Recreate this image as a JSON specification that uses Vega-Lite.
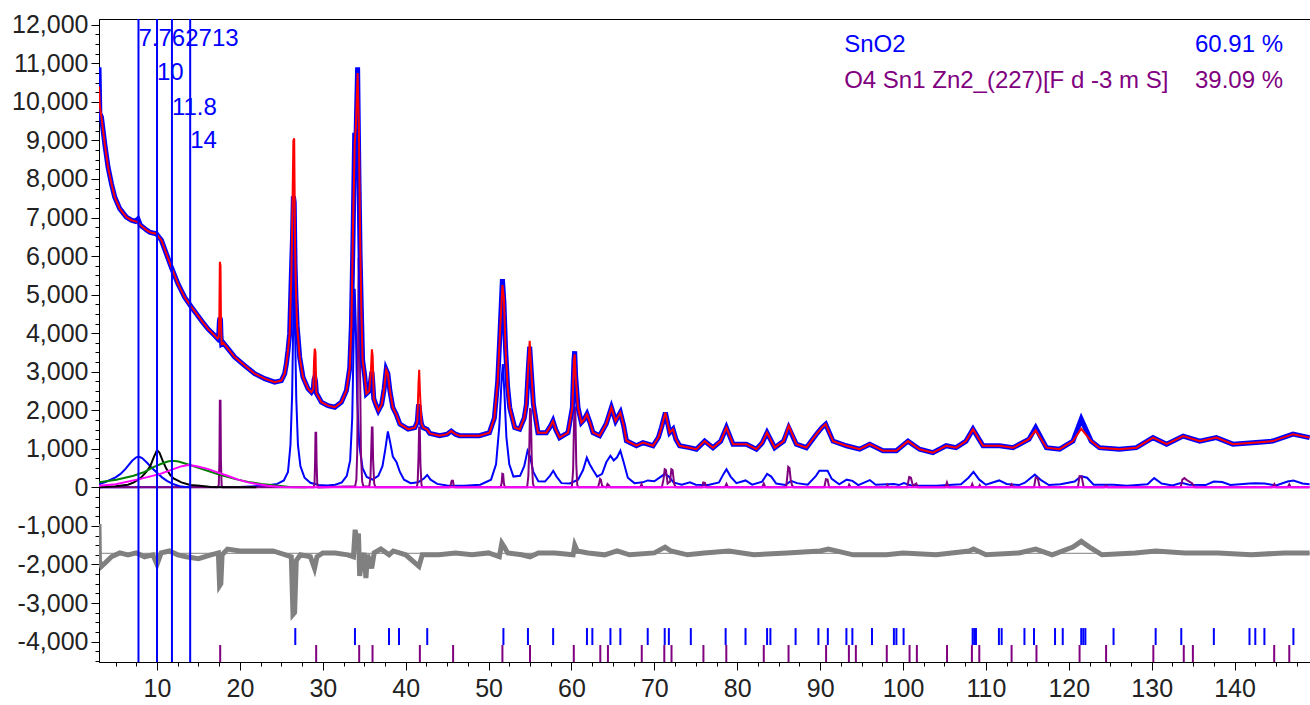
{
  "$schema": "https://vega.github.io/schema/vega-lite/v6.json",
  "width": 1211,
  "height": 643,
  "autosize": {"type": "none"},
  "padding": {"left": 99, "top": 19, "right": 0, "bottom": 43},
  "background": "white",
  "config": {
    "view": {"stroke": "#000", "strokeWidth": 1},
    "axis": {"grid": false, "labelFont": "Liberation Sans", "labelFontSize": 25, "labelColor": "#222", "domainColor": "#000", "tickColor": "#000"},
    "text": {"font": "Liberation Sans"}
  },
  "resolve": {"axis": {"x": "independent", "y": "independent"}},
  "datasets": {
    "pattern": [
      {"x": 3.0, "obs": 10900, "calc": 10400}, {"x": 3.1, "obs": 9700, "calc": 9900}, {"x": 3.29, "obs": 9610, "calc": 9610},
      {"x": 3.69, "obs": 8920, "calc": 8920}, {"x": 4.09, "obs": 8310, "calc": 8310}, {"x": 4.5, "obs": 7880, "calc": 7880},
      {"x": 4.9, "obs": 7530, "calc": 7530}, {"x": 5.5, "obs": 7230, "calc": 7230}, {"x": 6.3, "obs": 7010, "calc": 7010},
      {"x": 6.91, "obs": 6930, "calc": 6930}, {"x": 7.4, "obs": 6900, "calc": 6900}, {"x": 7.7, "obs": 6960, "calc": 6880},
      {"x": 8.0, "obs": 6800, "calc": 6800}, {"x": 8.31, "obs": 6750, "calc": 6750}, {"x": 8.7, "obs": 6680, "calc": 6680},
      {"x": 9.12, "obs": 6620, "calc": 6620}, {"x": 9.5, "obs": 6600, "calc": 6600}, {"x": 9.92, "obs": 6580, "calc": 6580},
      {"x": 10.2, "obs": 6500, "calc": 6500}, {"x": 10.53, "obs": 6410, "calc": 6410}, {"x": 11.13, "obs": 6060, "calc": 6060},
      {"x": 11.73, "obs": 5710, "calc": 5710}, {"x": 12.53, "obs": 5280, "calc": 5280}, {"x": 13.34, "obs": 4930, "calc": 4930},
      {"x": 14.15, "obs": 4680, "calc": 4680}, {"x": 15.35, "obs": 4330, "calc": 4330}, {"x": 16.15, "obs": 4110, "calc": 4110},
      {"x": 16.96, "obs": 3940, "calc": 3940}, {"x": 17.3, "obs": 3860, "calc": 3860}, {"x": 17.45, "obs": 3950, "calc": 3900},
      {"x": 17.52, "obs": 4300, "calc": 4500}, {"x": 17.58, "obs": 4400, "calc": 5850}, {"x": 17.66, "obs": 4350, "calc": 5750},
      {"x": 17.72, "obs": 3900, "calc": 4200}, {"x": 17.8, "obs": 3720, "calc": 3720}, {"x": 18.0, "obs": 3750, "calc": 3750},
      {"x": 18.56, "obs": 3600, "calc": 3600}, {"x": 19.37, "obs": 3380, "calc": 3380}, {"x": 20.58, "obs": 3160, "calc": 3160},
      {"x": 21.78, "obs": 2950, "calc": 2950}, {"x": 22.99, "obs": 2820, "calc": 2820}, {"x": 24.19, "obs": 2730, "calc": 2730},
      {"x": 25.0, "obs": 2770, "calc": 2770}, {"x": 25.4, "obs": 2950, "calc": 2950}, {"x": 25.6, "obs": 3200, "calc": 3200},
      {"x": 25.8, "obs": 3550, "calc": 3550}, {"x": 26.0, "obs": 3980, "calc": 3980}, {"x": 26.21, "obs": 5540, "calc": 5540},
      {"x": 26.35, "obs": 6500, "calc": 7400}, {"x": 26.45, "obs": 7550, "calc": 9000}, {"x": 26.55, "obs": 7400, "calc": 9050},
      {"x": 26.65, "obs": 5800, "calc": 6300}, {"x": 26.75, "obs": 5000, "calc": 5200}, {"x": 26.9, "obs": 4200, "calc": 4200},
      {"x": 27.21, "obs": 3380, "calc": 3380}, {"x": 27.61, "obs": 2860, "calc": 2860}, {"x": 28.21, "obs": 2560, "calc": 2560},
      {"x": 28.62, "obs": 2470, "calc": 2470}, {"x": 28.85, "obs": 2550, "calc": 2550}, {"x": 28.95, "obs": 2800, "calc": 3300},
      {"x": 29.03, "obs": 2850, "calc": 3600}, {"x": 29.12, "obs": 2750, "calc": 3500}, {"x": 29.22, "obs": 2450, "calc": 2450},
      {"x": 29.83, "obs": 2210, "calc": 2210}, {"x": 30.63, "obs": 2120, "calc": 2120}, {"x": 31.44, "obs": 2080, "calc": 2080},
      {"x": 32.24, "obs": 2210, "calc": 2210}, {"x": 32.85, "obs": 2510, "calc": 2510}, {"x": 33.25, "obs": 3100, "calc": 3100},
      {"x": 33.45, "obs": 4200, "calc": 4200}, {"x": 33.65, "obs": 6500, "calc": 6800}, {"x": 33.85, "obs": 9200, "calc": 8900},
      {"x": 34.0, "obs": 9000, "calc": 9400}, {"x": 34.2, "obs": 10900, "calc": 10750}, {"x": 34.35, "obs": 8200, "calc": 9400},
      {"x": 34.5, "obs": 6000, "calc": 6500}, {"x": 34.65, "obs": 4600, "calc": 4600}, {"x": 34.8, "obs": 3300, "calc": 3300},
      {"x": 35.05, "obs": 2900, "calc": 2900}, {"x": 35.26, "obs": 2430, "calc": 2430}, {"x": 35.6, "obs": 2500, "calc": 2500},
      {"x": 35.8, "obs": 2800, "calc": 3000}, {"x": 35.92, "obs": 3000, "calc": 3580}, {"x": 36.02, "obs": 2750, "calc": 3400},
      {"x": 36.15, "obs": 2300, "calc": 2300}, {"x": 36.4, "obs": 2150, "calc": 2150}, {"x": 36.7, "obs": 1990, "calc": 1990},
      {"x": 37.1, "obs": 2150, "calc": 2150}, {"x": 37.4, "obs": 2550, "calc": 2550}, {"x": 37.65, "obs": 3050, "calc": 3050},
      {"x": 37.85, "obs": 2950, "calc": 2950}, {"x": 38.1, "obs": 2500, "calc": 2500}, {"x": 38.45, "obs": 2070, "calc": 2070},
      {"x": 38.85, "obs": 1900, "calc": 1900}, {"x": 39.3, "obs": 1640, "calc": 1640}, {"x": 40.3, "obs": 1510, "calc": 1510},
      {"x": 41.1, "obs": 1550, "calc": 1550}, {"x": 41.4, "obs": 1700, "calc": 1700}, {"x": 41.55, "obs": 2150, "calc": 2700},
      {"x": 41.63, "obs": 2100, "calc": 3050}, {"x": 41.72, "obs": 1900, "calc": 2500}, {"x": 41.9, "obs": 1650, "calc": 1650},
      {"x": 42.1, "obs": 1550, "calc": 1550}, {"x": 42.6, "obs": 1500, "calc": 1500}, {"x": 42.9, "obs": 1400, "calc": 1400},
      {"x": 44.1, "obs": 1340, "calc": 1340}, {"x": 45.0, "obs": 1380, "calc": 1380}, {"x": 45.5, "obs": 1460, "calc": 1460},
      {"x": 46.0, "obs": 1380, "calc": 1380}, {"x": 46.5, "obs": 1340, "calc": 1340}, {"x": 48.9, "obs": 1340, "calc": 1340},
      {"x": 50.1, "obs": 1420, "calc": 1420}, {"x": 50.7, "obs": 1800, "calc": 1800}, {"x": 51.1, "obs": 2750, "calc": 2750},
      {"x": 51.4, "obs": 4100, "calc": 4100}, {"x": 51.67, "obs": 5400, "calc": 5250}, {"x": 51.85, "obs": 4800, "calc": 4900},
      {"x": 52.05, "obs": 3600, "calc": 3600}, {"x": 52.3, "obs": 2600, "calc": 2600}, {"x": 52.55, "obs": 2070, "calc": 2070},
      {"x": 53.15, "obs": 1550, "calc": 1550}, {"x": 53.75, "obs": 1510, "calc": 1510}, {"x": 54.3, "obs": 1800, "calc": 1800},
      {"x": 54.56, "obs": 2150, "calc": 2150}, {"x": 54.8, "obs": 3100, "calc": 3200}, {"x": 54.96, "obs": 3650, "calc": 3800},
      {"x": 55.15, "obs": 3000, "calc": 3000}, {"x": 55.41, "obs": 2150, "calc": 2150}, {"x": 55.96, "obs": 1420, "calc": 1420},
      {"x": 56.97, "obs": 1420, "calc": 1420}, {"x": 57.5, "obs": 1600, "calc": 1600}, {"x": 57.77, "obs": 1720, "calc": 1720},
      {"x": 58.1, "obs": 1500, "calc": 1500}, {"x": 58.57, "obs": 1290, "calc": 1290}, {"x": 59.58, "obs": 1420, "calc": 1420},
      {"x": 60.11, "obs": 2070, "calc": 2070}, {"x": 60.3, "obs": 3300, "calc": 3300}, {"x": 60.39, "obs": 3530, "calc": 3450},
      {"x": 60.5, "obs": 2900, "calc": 2900}, {"x": 60.79, "obs": 2070, "calc": 2070}, {"x": 61.2, "obs": 1680, "calc": 1680},
      {"x": 61.5, "obs": 1750, "calc": 1750}, {"x": 61.87, "obs": 1900, "calc": 1900}, {"x": 62.2, "obs": 1700, "calc": 1700},
      {"x": 62.6, "obs": 1420, "calc": 1420}, {"x": 63.4, "obs": 1340, "calc": 1340}, {"x": 64.2, "obs": 1650, "calc": 1650},
      {"x": 64.82, "obs": 2070, "calc": 2070}, {"x": 65.33, "obs": 1720, "calc": 1720}, {"x": 65.9, "obs": 1940, "calc": 1940},
      {"x": 66.3, "obs": 1600, "calc": 1600}, {"x": 66.63, "obs": 1210, "calc": 1210}, {"x": 67.83, "obs": 1080, "calc": 1080},
      {"x": 68.63, "obs": 1160, "calc": 1160}, {"x": 69.84, "obs": 1080, "calc": 1080}, {"x": 70.5, "obs": 1300, "calc": 1300},
      {"x": 70.85, "obs": 1550, "calc": 1550}, {"x": 71.33, "obs": 1940, "calc": 1940}, {"x": 71.85, "obs": 1420, "calc": 1420},
      {"x": 72.25, "obs": 1510, "calc": 1510}, {"x": 72.6, "obs": 1250, "calc": 1250}, {"x": 73.05, "obs": 1080, "calc": 1080},
      {"x": 74.25, "obs": 1030, "calc": 1030}, {"x": 75.07, "obs": 990, "calc": 990}, {"x": 76.07, "obs": 1200, "calc": 1200},
      {"x": 77.07, "obs": 1030, "calc": 1030}, {"x": 78.0, "obs": 1200, "calc": 1200}, {"x": 78.69, "obs": 1550, "calc": 1550},
      {"x": 79.49, "obs": 1120, "calc": 1120}, {"x": 81.1, "obs": 1120, "calc": 1120}, {"x": 82.31, "obs": 990, "calc": 990},
      {"x": 83.0, "obs": 1150, "calc": 1150}, {"x": 83.59, "obs": 1420, "calc": 1420}, {"x": 84.52, "obs": 1030, "calc": 1030},
      {"x": 85.6, "obs": 1200, "calc": 1200}, {"x": 86.21, "obs": 1550, "calc": 1600}, {"x": 87.13, "obs": 1120, "calc": 1120},
      {"x": 88.34, "obs": 1030, "calc": 1030}, {"x": 89.55, "obs": 1380, "calc": 1380}, {"x": 90.2, "obs": 1550, "calc": 1550},
      {"x": 90.67, "obs": 1640, "calc": 1640}, {"x": 91.55, "obs": 1200, "calc": 1200}, {"x": 93.17, "obs": 1080, "calc": 1080},
      {"x": 94.77, "obs": 990, "calc": 990}, {"x": 95.98, "obs": 1120, "calc": 1120}, {"x": 97.58, "obs": 950, "calc": 950},
      {"x": 99.2, "obs": 950, "calc": 950}, {"x": 100.6, "obs": 1200, "calc": 1200}, {"x": 102.0, "obs": 990, "calc": 990},
      {"x": 103.6, "obs": 900, "calc": 900}, {"x": 105.2, "obs": 1080, "calc": 1080}, {"x": 106.4, "obs": 1030, "calc": 1030},
      {"x": 107.6, "obs": 1200, "calc": 1200}, {"x": 108.44, "obs": 1510, "calc": 1510}, {"x": 109.65, "obs": 1080, "calc": 1080},
      {"x": 111.65, "obs": 1080, "calc": 1080}, {"x": 113.27, "obs": 1030, "calc": 1030}, {"x": 115.2, "obs": 1250, "calc": 1250},
      {"x": 116.0, "obs": 1550, "calc": 1480}, {"x": 117.3, "obs": 1030, "calc": 1030}, {"x": 118.9, "obs": 990, "calc": 990},
      {"x": 120.5, "obs": 1200, "calc": 1200}, {"x": 121.5, "obs": 1770, "calc": 1520}, {"x": 122.7, "obs": 1200, "calc": 1200},
      {"x": 123.7, "obs": 1030, "calc": 1030}, {"x": 126.1, "obs": 990, "calc": 990}, {"x": 128.15, "obs": 1030, "calc": 1030},
      {"x": 130.16, "obs": 1290, "calc": 1290}, {"x": 131.8, "obs": 1120, "calc": 1120}, {"x": 133.8, "obs": 1330, "calc": 1330},
      {"x": 135.8, "obs": 1200, "calc": 1200}, {"x": 137.8, "obs": 1290, "calc": 1290}, {"x": 139.8, "obs": 1120, "calc": 1120},
      {"x": 142.2, "obs": 1160, "calc": 1160}, {"x": 144.6, "obs": 1200, "calc": 1200}, {"x": 147.05, "obs": 1380, "calc": 1380},
      {"x": 149.05, "obs": 1290, "calc": 1290}
    ],
    "diff": [
      {"x": 3.0, "d": -950}, {"x": 3.05, "d": -1900}, {"x": 3.3, "d": -2050}, {"x": 3.8, "d": -1950}, {"x": 4.5, "d": -1800},
      {"x": 5.5, "d": -1700}, {"x": 6.5, "d": -1750}, {"x": 7.5, "d": -1700}, {"x": 8.5, "d": -1800}, {"x": 9.5, "d": -1750},
      {"x": 10.0, "d": -2000}, {"x": 10.5, "d": -1700}, {"x": 11.5, "d": -1650}, {"x": 12.5, "d": -1750}, {"x": 13.5, "d": -1800},
      {"x": 15.0, "d": -1850}, {"x": 16.5, "d": -1750}, {"x": 17.4, "d": -1700}, {"x": 17.55, "d": -2550}, {"x": 17.7, "d": -2500},
      {"x": 17.85, "d": -1750}, {"x": 18.5, "d": -1600}, {"x": 20.0, "d": -1650}, {"x": 22.0, "d": -1650}, {"x": 24.0, "d": -1650},
      {"x": 25.5, "d": -1750}, {"x": 26.2, "d": -1800}, {"x": 26.4, "d": -3300}, {"x": 26.6, "d": -3250}, {"x": 26.8, "d": -1900},
      {"x": 27.3, "d": -1750}, {"x": 28.5, "d": -1800}, {"x": 29.0, "d": -2100}, {"x": 29.3, "d": -1800}, {"x": 30.0, "d": -1700},
      {"x": 31.5, "d": -1700}, {"x": 33.0, "d": -1750}, {"x": 33.7, "d": -1800}, {"x": 33.9, "d": -1100}, {"x": 34.1, "d": -1400},
      {"x": 34.3, "d": -1200}, {"x": 34.45, "d": -2300}, {"x": 34.7, "d": -1900}, {"x": 35.0, "d": -1700}, {"x": 35.2, "d": -2350},
      {"x": 35.4, "d": -1750}, {"x": 35.9, "d": -2100}, {"x": 36.2, "d": -1700}, {"x": 37.0, "d": -1600}, {"x": 38.0, "d": -1750},
      {"x": 38.5, "d": -1650}, {"x": 40.0, "d": -1750}, {"x": 41.6, "d": -2050}, {"x": 42.0, "d": -1750}, {"x": 44.0, "d": -1750},
      {"x": 46.0, "d": -1700}, {"x": 48.0, "d": -1750}, {"x": 50.0, "d": -1700}, {"x": 51.3, "d": -1800}, {"x": 51.6, "d": -1450},
      {"x": 51.9, "d": -1550}, {"x": 52.3, "d": -1700}, {"x": 54.0, "d": -1750}, {"x": 55.0, "d": -1800}, {"x": 56.0, "d": -1700},
      {"x": 58.0, "d": -1700}, {"x": 60.2, "d": -1750}, {"x": 60.4, "d": -1500}, {"x": 60.7, "d": -1650}, {"x": 62.0, "d": -1700},
      {"x": 64.0, "d": -1750}, {"x": 65.5, "d": -1650}, {"x": 67.0, "d": -1750}, {"x": 70.0, "d": -1700}, {"x": 71.3, "d": -1550},
      {"x": 72.0, "d": -1650}, {"x": 74.0, "d": -1750}, {"x": 76.0, "d": -1700}, {"x": 79.0, "d": -1650}, {"x": 82.0, "d": -1750},
      {"x": 86.0, "d": -1700}, {"x": 90.0, "d": -1650}, {"x": 91.0, "d": -1600}, {"x": 94.0, "d": -1750}, {"x": 98.0, "d": -1750},
      {"x": 100.0, "d": -1700}, {"x": 104.0, "d": -1750}, {"x": 108.0, "d": -1650}, {"x": 108.5, "d": -1600}, {"x": 110.0, "d": -1750},
      {"x": 114.0, "d": -1700}, {"x": 116.0, "d": -1600}, {"x": 118.0, "d": -1750}, {"x": 120.5, "d": -1550}, {"x": 121.5, "d": -1400},
      {"x": 122.5, "d": -1550}, {"x": 124.0, "d": -1750}, {"x": 128.0, "d": -1700}, {"x": 130.5, "d": -1650}, {"x": 134.0, "d": -1700},
      {"x": 138.0, "d": -1700}, {"x": 142.0, "d": -1750}, {"x": 146.0, "d": -1700}, {"x": 149.05, "d": -1700}
    ],
    "sno2": [
      {"x": 3.0, "y": 0}, {"x": 20.0, "y": 10}, {"x": 23.0, "y": 40}, {"x": 24.5, "y": 90}, {"x": 25.3, "y": 180}, {"x": 25.8, "y": 400},
      {"x": 26.1, "y": 1100}, {"x": 26.3, "y": 2400}, {"x": 26.45, "y": 4500}, {"x": 26.52, "y": 5300}, {"x": 26.62, "y": 4500},
      {"x": 26.8, "y": 2300}, {"x": 27.0, "y": 1100}, {"x": 27.3, "y": 550}, {"x": 27.8, "y": 250}, {"x": 28.5, "y": 120},
      {"x": 29.5, "y": 60}, {"x": 30.5, "y": 50}, {"x": 31.5, "y": 70}, {"x": 32.3, "y": 130}, {"x": 32.9, "y": 300},
      {"x": 33.3, "y": 700}, {"x": 33.55, "y": 1800}, {"x": 33.72, "y": 3800}, {"x": 33.85, "y": 5150}, {"x": 33.98, "y": 4200},
      {"x": 34.15, "y": 2300}, {"x": 34.4, "y": 1100}, {"x": 34.8, "y": 500}, {"x": 35.3, "y": 270}, {"x": 36.0, "y": 200},
      {"x": 36.7, "y": 300}, {"x": 37.2, "y": 550}, {"x": 37.55, "y": 1000}, {"x": 37.85, "y": 1450}, {"x": 38.1, "y": 1200},
      {"x": 38.45, "y": 800}, {"x": 38.9, "y": 650}, {"x": 39.3, "y": 400}, {"x": 39.8, "y": 200}, {"x": 40.6, "y": 110},
      {"x": 41.5, "y": 130}, {"x": 42.2, "y": 230}, {"x": 42.6, "y": 320}, {"x": 43.0, "y": 200}, {"x": 43.8, "y": 90},
      {"x": 45.0, "y": 50}, {"x": 47.0, "y": 40}, {"x": 49.0, "y": 70}, {"x": 50.3, "y": 200}, {"x": 50.9, "y": 600},
      {"x": 51.3, "y": 1600}, {"x": 51.55, "y": 2700}, {"x": 51.72, "y": 3200}, {"x": 51.9, "y": 2500}, {"x": 52.15, "y": 1300},
      {"x": 52.5, "y": 600}, {"x": 53.0, "y": 280}, {"x": 53.8, "y": 300}, {"x": 54.3, "y": 550}, {"x": 54.7, "y": 950},
      {"x": 55.0, "y": 800}, {"x": 55.4, "y": 400}, {"x": 56.0, "y": 160}, {"x": 56.8, "y": 150}, {"x": 57.4, "y": 300},
      {"x": 57.8, "y": 430}, {"x": 58.2, "y": 280}, {"x": 58.8, "y": 110}, {"x": 59.8, "y": 100}, {"x": 60.8, "y": 200},
      {"x": 61.4, "y": 450}, {"x": 61.85, "y": 770}, {"x": 62.2, "y": 600}, {"x": 62.6, "y": 450}, {"x": 63.1, "y": 280},
      {"x": 63.7, "y": 350}, {"x": 64.2, "y": 650}, {"x": 64.7, "y": 820}, {"x": 65.1, "y": 700}, {"x": 65.5, "y": 780},
      {"x": 65.9, "y": 950}, {"x": 66.3, "y": 650}, {"x": 66.8, "y": 250}, {"x": 67.6, "y": 110}, {"x": 68.6, "y": 130},
      {"x": 69.2, "y": 180}, {"x": 70.0, "y": 160}, {"x": 70.8, "y": 280}, {"x": 71.25, "y": 350}, {"x": 71.75, "y": 280},
      {"x": 72.3, "y": 130}, {"x": 73.3, "y": 70}, {"x": 74.3, "y": 130}, {"x": 75.0, "y": 70}, {"x": 76.5, "y": 60},
      {"x": 77.8, "y": 130}, {"x": 78.3, "y": 330}, {"x": 78.7, "y": 470}, {"x": 79.2, "y": 280}, {"x": 79.9, "y": 110},
      {"x": 81.0, "y": 180}, {"x": 81.8, "y": 70}, {"x": 83.0, "y": 150}, {"x": 83.6, "y": 350}, {"x": 84.1, "y": 280},
      {"x": 84.7, "y": 100}, {"x": 85.8, "y": 60}, {"x": 86.5, "y": 170}, {"x": 87.2, "y": 110}, {"x": 88.5, "y": 70},
      {"x": 89.5, "y": 300}, {"x": 89.9, "y": 430}, {"x": 90.9, "y": 430}, {"x": 91.4, "y": 220}, {"x": 92.3, "y": 80},
      {"x": 93.2, "y": 200}, {"x": 93.9, "y": 170}, {"x": 94.6, "y": 60}, {"x": 96.0, "y": 190}, {"x": 96.7, "y": 70},
      {"x": 98.9, "y": 90}, {"x": 99.5, "y": 60}, {"x": 100.1, "y": 110}, {"x": 101.0, "y": 50}, {"x": 104.0, "y": 40},
      {"x": 107.0, "y": 80}, {"x": 107.9, "y": 250}, {"x": 108.5, "y": 400}, {"x": 109.2, "y": 200}, {"x": 110.0, "y": 70},
      {"x": 111.6, "y": 180}, {"x": 112.5, "y": 90}, {"x": 114.0, "y": 60}, {"x": 114.7, "y": 120}, {"x": 115.9, "y": 330},
      {"x": 116.7, "y": 180}, {"x": 117.6, "y": 60}, {"x": 119.0, "y": 80}, {"x": 120.7, "y": 150}, {"x": 121.5, "y": 290},
      {"x": 122.2, "y": 250}, {"x": 123.0, "y": 70}, {"x": 125.4, "y": 70}, {"x": 127.0, "y": 40}, {"x": 129.5, "y": 80},
      {"x": 130.3, "y": 240}, {"x": 131.2, "y": 100}, {"x": 132.5, "y": 50}, {"x": 133.6, "y": 120}, {"x": 134.5, "y": 70},
      {"x": 136.5, "y": 60}, {"x": 137.5, "y": 150}, {"x": 138.5, "y": 140}, {"x": 139.5, "y": 60}, {"x": 141.8, "y": 100},
      {"x": 142.5, "y": 110}, {"x": 143.6, "y": 100}, {"x": 145.0, "y": 50}, {"x": 146.4, "y": 150}, {"x": 147.1, "y": 180},
      {"x": 148.2, "y": 100}, {"x": 149.05, "y": 80}
    ],
    "zso": [
      {"x": 3.0, "y": 0}, {"x": 17.3, "y": 0}, {"x": 17.45, "y": 60}, {"x": 17.53, "y": 690}, {"x": 17.58, "y": 2250},
      {"x": 17.66, "y": 2250}, {"x": 17.71, "y": 690}, {"x": 17.79, "y": 60}, {"x": 17.9, "y": 0}, {"x": 28.9, "y": 0},
      {"x": 29.0, "y": 100}, {"x": 29.07, "y": 650}, {"x": 29.12, "y": 1420}, {"x": 29.2, "y": 1420}, {"x": 29.25, "y": 650},
      {"x": 29.33, "y": 100}, {"x": 29.45, "y": 0}, {"x": 33.9, "y": 30}, {"x": 34.05, "y": 200}, {"x": 34.15, "y": 900}, {"x": 34.25, "y": 3500},
      {"x": 34.32, "y": 5930}, {"x": 34.42, "y": 5930}, {"x": 34.5, "y": 3000}, {"x": 34.6, "y": 900}, {"x": 34.75, "y": 150},
      {"x": 34.9, "y": 30}, {"x": 35.6, "y": 20}, {"x": 35.75, "y": 250}, {"x": 35.85, "y": 1000}, {"x": 35.92, "y": 1550},
      {"x": 36.0, "y": 1550}, {"x": 36.07, "y": 700}, {"x": 36.2, "y": 100}, {"x": 36.35, "y": 0}, {"x": 41.35, "y": 0},
      {"x": 41.45, "y": 150}, {"x": 41.55, "y": 800}, {"x": 41.62, "y": 1550}, {"x": 41.7, "y": 1550}, {"x": 41.78, "y": 600},
      {"x": 41.9, "y": 80}, {"x": 42.0, "y": 0}, {"x": 45.3, "y": 0}, {"x": 45.45, "y": 80}, {"x": 45.55, "y": 170},
      {"x": 45.7, "y": 170}, {"x": 45.8, "y": 40}, {"x": 45.95, "y": 0}, {"x": 51.45, "y": 0}, {"x": 51.58, "y": 120},
      {"x": 51.66, "y": 350}, {"x": 51.76, "y": 340}, {"x": 51.85, "y": 100}, {"x": 51.97, "y": 0}, {"x": 54.65, "y": 0},
      {"x": 54.8, "y": 300}, {"x": 54.92, "y": 1100}, {"x": 55.0, "y": 2050}, {"x": 55.1, "y": 2000}, {"x": 55.2, "y": 800},
      {"x": 55.35, "y": 100}, {"x": 55.5, "y": 0}, {"x": 60.05, "y": 0}, {"x": 60.2, "y": 450}, {"x": 60.3, "y": 1600},
      {"x": 60.38, "y": 2100}, {"x": 60.47, "y": 2000}, {"x": 60.58, "y": 600}, {"x": 60.7, "y": 60}, {"x": 60.85, "y": 0},
      {"x": 63.2, "y": 0}, {"x": 63.35, "y": 120}, {"x": 63.45, "y": 220}, {"x": 63.55, "y": 200}, {"x": 63.7, "y": 30},
      {"x": 64.2, "y": 0}, {"x": 64.35, "y": 90}, {"x": 64.5, "y": 60}, {"x": 64.7, "y": 0}, {"x": 68.3, "y": 0},
      {"x": 68.45, "y": 80}, {"x": 68.6, "y": 0}, {"x": 70.9, "y": 0}, {"x": 71.1, "y": 200}, {"x": 71.25, "y": 470},
      {"x": 71.4, "y": 450}, {"x": 71.6, "y": 100}, {"x": 71.9, "y": 150}, {"x": 72.05, "y": 470}, {"x": 72.2, "y": 450},
      {"x": 72.4, "y": 80}, {"x": 72.6, "y": 0}, {"x": 75.75, "y": 0}, {"x": 75.9, "y": 130}, {"x": 76.1, "y": 120},
      {"x": 76.3, "y": 0}, {"x": 78.5, "y": 0}, {"x": 78.7, "y": 90}, {"x": 78.9, "y": 0}, {"x": 83.0, "y": 0},
      {"x": 83.2, "y": 100}, {"x": 83.4, "y": 0}, {"x": 85.9, "y": 0}, {"x": 86.05, "y": 300}, {"x": 86.15, "y": 530},
      {"x": 86.3, "y": 500}, {"x": 86.45, "y": 200}, {"x": 86.6, "y": 60}, {"x": 86.8, "y": 0}, {"x": 90.5, "y": 0},
      {"x": 90.7, "y": 210}, {"x": 90.9, "y": 200}, {"x": 91.1, "y": 0}, {"x": 93.4, "y": 0}, {"x": 93.5, "y": 70},
      {"x": 93.7, "y": 0}, {"x": 98.0, "y": 0}, {"x": 98.1, "y": 60}, {"x": 98.25, "y": 0}, {"x": 100.5, "y": 0},
      {"x": 100.75, "y": 270}, {"x": 100.95, "y": 250}, {"x": 101.2, "y": 40}, {"x": 101.6, "y": 100}, {"x": 101.8, "y": 0},
      {"x": 105.1, "y": 0}, {"x": 105.3, "y": 130}, {"x": 105.5, "y": 0}, {"x": 108.2, "y": 0}, {"x": 108.35, "y": 90},
      {"x": 108.5, "y": 0}, {"x": 109.1, "y": 0}, {"x": 109.25, "y": 60}, {"x": 109.4, "y": 0}, {"x": 112.9, "y": 0},
      {"x": 113.1, "y": 80}, {"x": 113.3, "y": 0}, {"x": 115.8, "y": 0}, {"x": 116.0, "y": 250}, {"x": 116.25, "y": 240},
      {"x": 116.5, "y": 0}, {"x": 121.1, "y": 0}, {"x": 121.3, "y": 290}, {"x": 121.55, "y": 280}, {"x": 121.8, "y": 0},
      {"x": 124.3, "y": 0}, {"x": 124.5, "y": 50}, {"x": 124.7, "y": 0}, {"x": 133.5, "y": 0}, {"x": 133.7, "y": 200},
      {"x": 133.95, "y": 240}, {"x": 134.3, "y": 180}, {"x": 134.9, "y": 100}, {"x": 135.2, "y": 0}, {"x": 144.5, "y": 0},
      {"x": 144.8, "y": 90}, {"x": 145.0, "y": 0}, {"x": 146.4, "y": 0}, {"x": 146.6, "y": 80}, {"x": 146.8, "y": 0},
      {"x": 149.05, "y": 0}
    ],
    "bg": [
      {"x": 3.0, "c": "a", "y": 80}, {"x": 4.0, "c": "a", "y": 160}, {"x": 5.0, "c": "a", "y": 260}, {"x": 5.6, "c": "a", "y": 350},
      {"x": 6.2, "c": "a", "y": 480}, {"x": 7.0, "c": "a", "y": 690}, {"x": 7.5, "c": "a", "y": 780}, {"x": 7.8, "c": "a", "y": 800},
      {"x": 8.2, "c": "a", "y": 760}, {"x": 8.8, "c": "a", "y": 640}, {"x": 9.4, "c": "a", "y": 500}, {"x": 10.0, "c": "a", "y": 380},
      {"x": 10.6, "c": "a", "y": 260}, {"x": 11.2, "c": "a", "y": 170}, {"x": 12.0, "c": "a", "y": 80}, {"x": 12.9, "c": "a", "y": 20},
      {"x": 14.0, "c": "a", "y": 0},
      {"x": 3.0, "c": "b", "y": 0}, {"x": 5.0, "c": "b", "y": 30}, {"x": 6.5, "c": "b", "y": 70}, {"x": 7.2, "c": "b", "y": 130},
      {"x": 8.0, "c": "b", "y": 240}, {"x": 8.7, "c": "b", "y": 400}, {"x": 9.2, "c": "b", "y": 560}, {"x": 9.6, "c": "b", "y": 780},
      {"x": 10.0, "c": "b", "y": 970}, {"x": 10.3, "c": "b", "y": 900}, {"x": 10.7, "c": "b", "y": 680}, {"x": 11.13, "c": "b", "y": 480},
      {"x": 11.6, "c": "b", "y": 320}, {"x": 12.0, "c": "b", "y": 230}, {"x": 12.94, "c": "b", "y": 130}, {"x": 14.0, "c": "b", "y": 60},
      {"x": 15.15, "c": "b", "y": 40}, {"x": 16.5, "c": "b", "y": 10}, {"x": 18.0, "c": "b", "y": 0}, {"x": 22.0, "c": "b", "y": 0},
      {"x": 3.0, "c": "c", "y": 130}, {"x": 5.1, "c": "c", "y": 200}, {"x": 7.17, "c": "c", "y": 300}, {"x": 8.5, "c": "c", "y": 400},
      {"x": 9.5, "c": "c", "y": 520}, {"x": 10.6, "c": "c", "y": 620}, {"x": 11.3, "c": "c", "y": 670}, {"x": 11.85, "c": "c", "y": 690},
      {"x": 12.6, "c": "c", "y": 670}, {"x": 13.67, "c": "c", "y": 600}, {"x": 15.0, "c": "c", "y": 510}, {"x": 16.1, "c": "c", "y": 430},
      {"x": 17.5, "c": "c", "y": 330}, {"x": 19.35, "c": "c", "y": 220}, {"x": 21.0, "c": "c", "y": 140}, {"x": 22.6, "c": "c", "y": 90},
      {"x": 24.6, "c": "c", "y": 40}, {"x": 26.0, "c": "c", "y": 10}, {"x": 28.0, "c": "c", "y": 0},
      {"x": 3.0, "c": "d", "y": 40}, {"x": 5.0, "c": "d", "y": 80}, {"x": 8.0, "c": "d", "y": 220}, {"x": 10.4, "c": "d", "y": 350},
      {"x": 12.05, "c": "d", "y": 480}, {"x": 13.0, "c": "d", "y": 550}, {"x": 13.8, "c": "d", "y": 580}, {"x": 14.8, "c": "d", "y": 550},
      {"x": 16.1, "c": "d", "y": 480}, {"x": 17.3, "c": "d", "y": 390}, {"x": 18.5, "c": "d", "y": 300}, {"x": 19.8, "c": "d", "y": 200},
      {"x": 21.0, "c": "d", "y": 130}, {"x": 22.2, "c": "d", "y": 80}, {"x": 23.4, "c": "d", "y": 40}, {"x": 25.0, "c": "d", "y": 10},
      {"x": 27.0, "c": "d", "y": 0}, {"x": 149.05, "c": "d", "y": 0}
    ],
    "refl_sno2": [
      {"x": 26.68}, {"x": 33.88}, {"x": 37.99}, {"x": 39.19}, {"x": 42.6}, {"x": 51.79}, {"x": 54.75}, {"x": 57.79},
      {"x": 61.87}, {"x": 62.52}, {"x": 64.7}, {"x": 65.9}, {"x": 69.2}, {"x": 71.25}, {"x": 71.75}, {"x": 74.4},
      {"x": 78.6}, {"x": 81.0}, {"x": 83.6}, {"x": 84.0}, {"x": 87.04}, {"x": 89.79}, {"x": 90.93}, {"x": 93.17},
      {"x": 93.89}, {"x": 96.26}, {"x": 98.9}, {"x": 99.2}, {"x": 100.07}, {"x": 108.4}, {"x": 108.6}, {"x": 108.8},
      {"x": 111.57}, {"x": 111.9}, {"x": 114.65}, {"x": 115.8}, {"x": 118.34}, {"x": 119.27}, {"x": 121.5}, {"x": 121.75},
      {"x": 122.0}, {"x": 125.4}, {"x": 130.48}, {"x": 133.57}, {"x": 137.5}, {"x": 141.8}, {"x": 142.5}, {"x": 143.6},
      {"x": 147.1}
    ],
    "refl_zso": [
      {"x": 17.62}, {"x": 29.2}, {"x": 34.39}, {"x": 36.0}, {"x": 41.71}, {"x": 45.72}, {"x": 51.67}, {"x": 55.0},
      {"x": 60.28}, {"x": 63.48}, {"x": 64.4}, {"x": 68.48}, {"x": 71.2}, {"x": 72.07}, {"x": 75.92}, {"x": 78.68},
      {"x": 83.2}, {"x": 86.19}, {"x": 90.72}, {"x": 93.47}, {"x": 94.31}, {"x": 98.04}, {"x": 100.79}, {"x": 101.67},
      {"x": 105.31}, {"x": 108.31}, {"x": 109.2}, {"x": 113.1}, {"x": 116.1}, {"x": 121.3}, {"x": 124.5}, {"x": 130.2},
      {"x": 133.87}, {"x": 134.97}, {"x": 144.78}, {"x": 146.6}
    ],
    "markers": [
      {"x": 7.762713}, {"x": 10}, {"x": 11.8}, {"x": 14}
    ]
  },
  "layer": [
    {
      "data": {"name": "sno2"},
      "mark": {"type": "line", "color": "#0000ff", "strokeWidth": 2, "clip": true},
      "encoding": {
        "x": {"field": "x", "type": "quantitative", "scale": {"domain": [3, 149.1], "nice": false, "zero": false}, "axis": null},
        "y": {"field": "y", "type": "quantitative", "scale": {"domain": [-4530, 12150], "nice": false, "zero": false}, "axis": null}
      }
    },
    {
      "data": {"name": "zso"},
      "mark": {"type": "line", "color": "#800080", "strokeWidth": 2, "clip": true},
      "encoding": {
        "x": {"field": "x", "type": "quantitative", "scale": {"domain": [3, 149.1], "nice": false, "zero": false}, "axis": null},
        "y": {"field": "y", "type": "quantitative", "scale": {"domain": [-4530, 12150], "nice": false, "zero": false}, "axis": null}
      }
    },
    {
      "data": {"name": "bg"},
      "mark": {"type": "line", "strokeWidth": 2, "clip": true},
      "encoding": {
        "x": {"field": "x", "type": "quantitative", "scale": {"domain": [3, 149.1], "nice": false, "zero": false}, "axis": null},
        "y": {"field": "y", "type": "quantitative", "scale": {"domain": [-4530, 12150], "nice": false, "zero": false}, "axis": null},
        "color": {"field": "c", "type": "nominal", "scale": {"domain": ["a", "b", "c", "d"], "range": ["#0000ff", "#000000", "#008000", "#ff00ff"]}, "legend": null}
      }
    },
    {
      "data": {"values": [{}]},
      "mark": {"type": "rule", "color": "#808080", "strokeWidth": 1},
      "encoding": {
        "y": {"datum": -1710, "type": "quantitative", "scale": {"domain": [-4530, 12150], "nice": false, "zero": false}, "axis": null}
      }
    },
    {
      "data": {"name": "diff"},
      "mark": {"type": "line", "color": "#808080", "strokeWidth": 5, "clip": true},
      "encoding": {
        "x": {"field": "x", "type": "quantitative", "scale": {"domain": [3, 149.1], "nice": false, "zero": false}, "axis": null},
        "y": {"field": "d", "type": "quantitative", "scale": {"domain": [-4530, 12150], "nice": false, "zero": false}, "axis": null}
      }
    },
    {
      "data": {"name": "pattern"},
      "mark": {"type": "line", "color": "#0000ff", "strokeWidth": 5, "clip": true},
      "encoding": {
        "x": {"field": "x", "type": "quantitative", "scale": {"domain": [3, 149.1], "nice": false, "zero": false}, "title": null,
          "axis": {"orient": "bottom", "values": [10, 20, 30, 40, 50, 60, 70, 80, 90, 100, 110, 120, 130, 140], "tickSize": 8, "labelPadding": 6, "labelFlush": false, "labelOverlap": false, "domain": true}},
        "y": {"field": "obs", "type": "quantitative", "scale": {"domain": [-4530, 12150], "nice": false, "zero": false}, "title": null,
          "axis": {"orient": "left", "values": [-4000, -3000, -2000, -1000, 0, 1000, 2000, 3000, 4000, 5000, 6000, 7000, 8000, 9000, 10000, 11000, 12000], "format": ",d", "labelExpr": "replace(datum.label, '\u2212', '-')", "tickSize": 8, "labelPadding": 3, "labelFlush": false, "labelOverlap": false, "domain": true}}
      }
    },
    {
      "data": {"name": "pattern"},
      "mark": {"type": "line", "color": "#ff0000", "strokeWidth": 2, "clip": true},
      "encoding": {
        "x": {"field": "x", "type": "quantitative", "scale": {"domain": [3, 149.1], "nice": false, "zero": false}, "title": null,
          "axis": {"orient": "bottom", "values": [5, 7.5, 10, 12.5, 15, 17.5, 20, 22.5, 25, 27.5, 30, 32.5, 35, 37.5, 40, 42.5, 45, 47.5, 50, 52.5, 55, 57.5, 60, 62.5, 65, 67.5, 70, 72.5, 75, 77.5, 80, 82.5, 85, 87.5, 90, 92.5, 95, 97.5, 100, 102.5, 105, 107.5, 110, 112.5, 115, 117.5, 120, 122.5, 125, 127.5, 130, 132.5, 135, 137.5, 140, 142.5, 145, 147.5], "labels": false, "tickSize": 4, "domain": false}},
        "y": {"field": "calc", "type": "quantitative", "scale": {"domain": [-4530, 12150], "nice": false, "zero": false}, "title": null,
          "axis": {"orient": "left", "values": [-4500, -4250, -4000, -3750, -3500, -3250, -3000, -2750, -2500, -2250, -2000, -1750, -1500, -1250, -1000, -750, -500, -250, 0, 250, 500, 750, 1000, 1250, 1500, 1750, 2000, 2250, 2500, 2750, 3000, 3250, 3500, 3750, 4000, 4250, 4500, 4750, 5000, 5250, 5500, 5750, 6000, 6250, 6500, 6750, 7000, 7250, 7500, 7750, 8000, 8250, 8500, 8750, 9000, 9250, 9500, 9750, 10000, 10250, 10500, 10750, 11000, 11250, 11500, 11750, 12000], "labels": false, "tickSize": 4, "domain": false}}
      }
    },
    {
      "data": {"name": "refl_sno2"},
      "mark": {"type": "rule", "color": "#0000ff", "strokeWidth": 2},
      "encoding": {
        "x": {"field": "x", "type": "quantitative", "scale": {"domain": [3, 149.1], "nice": false, "zero": false}, "axis": null},
        "y": {"datum": -3650, "type": "quantitative", "scale": {"domain": [-4530, 12150], "nice": false, "zero": false}, "axis": null},
        "y2": {"datum": -4090}
      }
    },
    {
      "data": {"name": "refl_zso"},
      "mark": {"type": "rule", "color": "#800080", "strokeWidth": 2},
      "encoding": {
        "x": {"field": "x", "type": "quantitative", "scale": {"domain": [3, 149.1], "nice": false, "zero": false}, "axis": null},
        "y": {"datum": -4090, "type": "quantitative", "scale": {"domain": [-4530, 12150], "nice": false, "zero": false}, "axis": null},
        "y2": {"datum": -4530}
      }
    },
    {
      "data": {"name": "markers"},
      "mark": {"type": "rule", "color": "#0000ff", "strokeWidth": 2},
      "encoding": {
        "x": {"field": "x", "type": "quantitative", "scale": {"domain": [3, 149.1], "nice": false, "zero": false}, "axis": null},
        "y": {"datum": -4530, "type": "quantitative", "scale": {"domain": [-4530, 12150], "nice": false, "zero": false}, "axis": null},
        "y2": {"datum": 12150}
      }
    },
    {
      "data": {"values": [{}]},
      "mark": {"type": "text", "text": "7.762713", "align": "left", "baseline": "alphabetic", "fontSize": 24, "color": "#0000ff", "dx": 0},
      "encoding": {
        "x": {"datum": 7.762713, "type": "quantitative", "axis": null},
        "y": {"datum": 11457, "type": "quantitative", "axis": null}
      }
    },
    {
      "data": {"values": [{}]},
      "mark": {"type": "text", "text": "10", "align": "left", "baseline": "alphabetic", "fontSize": 24, "color": "#0000ff", "dx": 0},
      "encoding": {
        "x": {"datum": 10, "type": "quantitative", "axis": null},
        "y": {"datum": 10575, "type": "quantitative", "axis": null}
      }
    },
    {
      "data": {"values": [{}]},
      "mark": {"type": "text", "text": "11.8", "align": "left", "baseline": "alphabetic", "fontSize": 24, "color": "#0000ff", "dx": 0},
      "encoding": {
        "x": {"datum": 11.8, "type": "quantitative", "axis": null},
        "y": {"datum": 9667, "type": "quantitative", "axis": null}
      }
    },
    {
      "data": {"values": [{}]},
      "mark": {"type": "text", "text": "14", "align": "left", "baseline": "alphabetic", "fontSize": 24, "color": "#0000ff", "dx": 0},
      "encoding": {
        "x": {"datum": 14, "type": "quantitative", "axis": null},
        "y": {"datum": 8804, "type": "quantitative", "axis": null}
      }
    },
    {
      "data": {"values": [{}]},
      "mark": {"type": "text", "text": "SnO2", "align": "left", "baseline": "alphabetic", "fontSize": 24, "color": "#0000ff"},
      "encoding": {
        "x": {"datum": 92.9, "type": "quantitative", "axis": null},
        "y": {"datum": 11289, "type": "quantitative", "axis": null}
      }
    },
    {
      "data": {"values": [{}]},
      "mark": {"type": "text", "text": "60.91 %", "align": "right", "baseline": "alphabetic", "fontSize": 24, "color": "#0000ff"},
      "encoding": {
        "x": {"datum": 145.85, "type": "quantitative", "axis": null},
        "y": {"datum": 11289, "type": "quantitative", "axis": null}
      }
    },
    {
      "data": {"values": [{}]},
      "mark": {"type": "text", "text": "O4 Sn1 Zn2_(227)[F d -3 m S]", "align": "left", "baseline": "alphabetic", "fontSize": 24, "color": "#800080"},
      "encoding": {
        "x": {"datum": 92.9, "type": "quantitative", "axis": null},
        "y": {"datum": 10355, "type": "quantitative", "axis": null}
      }
    },
    {
      "data": {"values": [{}]},
      "mark": {"type": "text", "text": "39.09 %", "align": "right", "baseline": "alphabetic", "fontSize": 24, "color": "#800080"},
      "encoding": {
        "x": {"datum": 145.85, "type": "quantitative", "axis": null},
        "y": {"datum": 10355, "type": "quantitative", "axis": null}
      }
    }
  ]
}
